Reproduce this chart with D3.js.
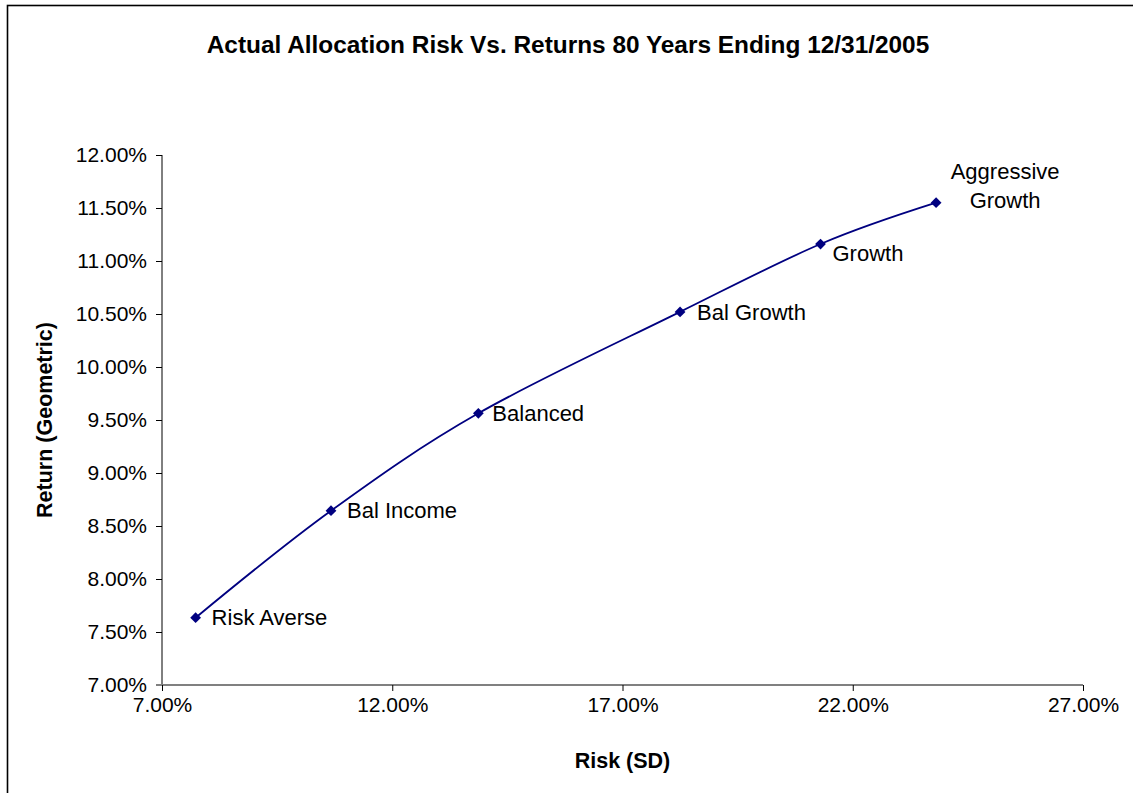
<!DOCTYPE html>
<html>
<head>
<meta charset="utf-8">
<script src="https://cdn.jsdelivr.net/npm/d3@7"></script>
<style>
  html, body { margin: 0; padding: 0; background: #fff; }
  svg { display: block; font-family: Arial, "Liberation Sans", sans-serif; }
</style>
</head>
<body>
<svg id="chart" width="1133" height="793"></svg>
<script>
// Data
const labels = ["Risk Averse", "Bal Income", "Balanced", "Bal Growth", "Growth", "Aggressive Growth"];
const risk   = [7.73, 10.67, 13.87, 18.25, 21.30, 23.81];
const ret    = [7.635, 8.644, 9.563, 10.52, 11.16, 11.55];
const xTicks = [7, 12, 17, 22, 27];
const yTicks = [7, 7.5, 8, 8.5, 9, 9.5, 10, 10.5, 11, 11.5, 12];

// label placement (style only)
const labelLayout = [
  {dx: 16, dy: 0, anchor: "start"},
  {dx: 16, dy: 0, anchor: "start"},
  {dx: 14, dy: 0, anchor: "start"},
  {dx: 17, dy: 0, anchor: "start"},
  {dx: 12, dy: 9, anchor: "start"},
  {dx: 69, dy: -17, anchor: "middle"}
];

const FONT = "Arial, 'Liberation Sans', sans-serif";
const svg = d3.select("#chart");
const L = 162, R = 1083, T = 155, B = 685;

// Outer frame
svg.append("rect").attr("x", 7.5).attr("y", 5.5).attr("width", 1200).attr("height", 900)
  .attr("fill", "none").attr("stroke", "#000").attr("stroke-width", 1.6);

const x = d3.scaleLinear().domain([7, 27]).range([L, R]);
const y = d3.scaleLinear().domain([7, 12]).range([B, T]);

// Title
svg.append("text").attr("x", 568).attr("y", 53).attr("text-anchor", "middle")
  .attr("font-weight", "bold").attr("font-size", 24.4)
  .text("Actual Allocation Risk Vs. Returns 80 Years Ending 12/31/2005");

// Y axis
const yAxis = svg.append("g").attr("transform", `translate(${L},0)`)
  .call(d3.axisLeft(y).tickValues(yTicks).tickSize(6).tickPadding(9)
    .tickFormat(d => d.toFixed(2) + "%"));
yAxis.select(".domain").attr("stroke", "#000").attr("d", `M0,${T}V${B}`);
yAxis.selectAll(".tick line").attr("stroke", "#000");
yAxis.selectAll(".tick text").attr("font-size", 21).attr("fill", "#000")
  .attr("font-family", FONT);

// X axis
const xAxis = svg.append("g").attr("transform", `translate(0,${B})`)
  .call(d3.axisBottom(x).tickValues(xTicks).tickSize(6).tickPadding(6)
    .tickFormat(d => d.toFixed(2) + "%"));
xAxis.select(".domain").attr("stroke", "#808080").attr("stroke-width", 2).attr("d", `M${L-6},0H${R}`);
xAxis.selectAll(".tick line").attr("stroke", "#000");
xAxis.selectAll(".tick text").attr("font-size", 21).attr("fill", "#000")
  .attr("font-family", FONT);

// Axis titles
svg.append("text").attr("x", (L + R) / 2).attr("y", 768).attr("text-anchor", "middle")
  .attr("font-weight", "bold").attr("font-size", 21.5).text("Risk (SD)");
svg.append("text").attr("transform", `translate(52,${(T + B) / 2}) rotate(-90)`)
  .attr("text-anchor", "middle").attr("font-weight", "bold").attr("font-size", 21.5)
  .text("Return (Geometric)");

// Data
const pts = risk.map((r, i) => ({x: r, y: ret[i], label: labels[i], lay: labelLayout[i]}));

const line = d3.line().x(d => x(d.x)).y(d => y(d.y)).curve(d3.curveCatmullRom.alpha(0));
svg.append("path").datum(pts).attr("d", line)
  .attr("fill", "none").attr("stroke", "#000080").attr("stroke-width", 1.8);

svg.selectAll(".pt").data(pts).enter().append("path")
  .attr("d", d3.symbol().type(d3.symbolSquare).size(58))
  .attr("transform", d => `translate(${x(d.x)},${y(d.y)}) rotate(45)`)
  .attr("fill", "#000080");

const lab = svg.selectAll(".lab").data(pts).enter().append("text")
  .attr("font-size", 22).attr("fill", "#000")
  .attr("text-anchor", d => d.lay.anchor)
  .attr("x", d => x(d.x) + d.lay.dx)
  .attr("y", d => y(d.y) + d.lay.dy);
lab.each(function(d) {
  const words = d.label === "Aggressive Growth" ? ["Aggressive", "Growth"] : [d.label];
  const t = d3.select(this);
  const n = words.length;
  words.forEach((w, i) => {
    t.append("tspan").attr("x", x(d.x) + d.lay.dx)
      .attr("dy", i === 0 ? (0.35 - (n - 1) * 0.65) + "em" : "1.3em").text(w);
  });
});
</script>
</body>
</html>
